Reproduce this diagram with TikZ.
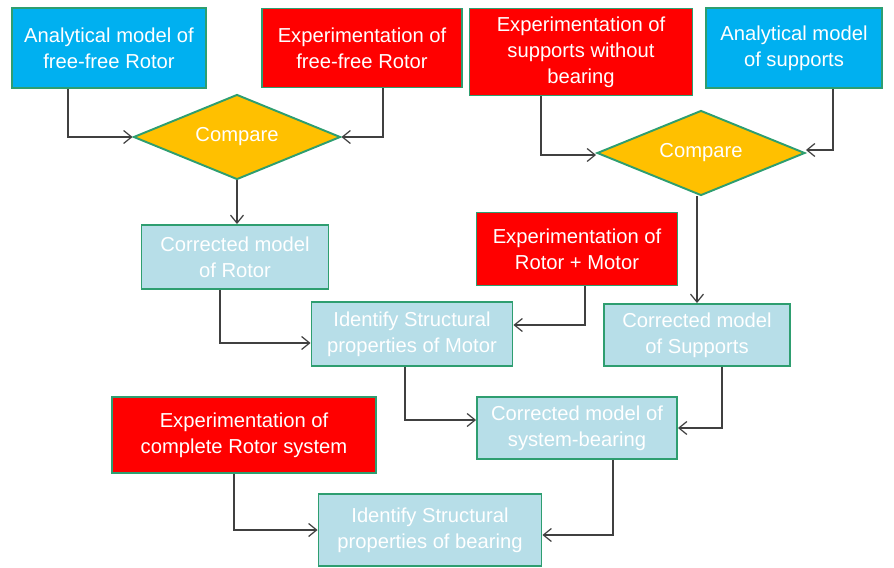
\documentclass[tikz,border=0pt]{standalone}
\usepackage{fontspec}
\setmainfont{Liberation Sans}
\usetikzlibrary{shapes.geometric,arrows.meta}

\definecolor{azul}{HTML}{00B0F0}
\definecolor{vermelho}{HTML}{FF0000}
\definecolor{ouro}{HTML}{FFC000}
\definecolor{claro}{HTML}{B7DEE8}
\definecolor{borda}{HTML}{2E9E70}
\definecolor{linha}{HTML}{404040}

\tikzset{
  caixa/.style={draw=borda, line width=1.1pt, text=white, align=center,
    font=\fontsize{11.5}{14.8}\selectfont, inner sep=2pt},
  modelo/.style={caixa, fill=azul},
  ensaio/.style={caixa, fill=vermelho},
  corrigido/.style={caixa, fill=claro},
  compara/.style={caixa, shape=diamond, aspect=2.4, fill=ouro, inner sep=0pt},
  seta/.style={->, draw=linha, line width=0.7pt}
}

\begin{document}
\begin{tikzpicture}[x=0.02cm, y=-0.02cm, >={Straight Barb[length=1.6mm,width=2.6mm]}]
  \useasboundingbox (0,0) rectangle (894,568);

    % Linha de cima
  \node[modelo, minimum width=3.88cm, minimum height=1.6cm] (mod1) at (109,48) {Analytical model of\\free-free Rotor};
  \node[ensaio, minimum width=4.0cm, minimum height=1.58cm] (exp1) at (362,48) {Experimentation of\\free-free Rotor};
  \node[ensaio, minimum width=4.46cm, minimum height=1.74cm] (exp2) at (581,52) {Experimentation of\\supports without\\bearing};
  \node[modelo, minimum width=3.52cm, minimum height=1.6cm] (mod2) at (794,48) {Analytical model\\of supports};

    % Comparações
  \node[compara, minimum width=4.14cm, minimum height=1.7cm] (comp1) at (237,137) {Compare};
  \node[compara, minimum width=4.16cm, minimum height=1.7cm] (comp2) at (701,153) {Compare};

    % Modelos corrigidos
  \node[corrigido, minimum width=3.74cm, minimum height=1.28cm] (rotor) at (235,257) {Corrected model\\of Rotor};
  \node[ensaio, minimum width=4.02cm, minimum height=1.46cm] (exp3) at (577,249) {Experimentation of\\Rotor + Motor};
  \node[corrigido, minimum width=4.02cm, minimum height=1.28cm] (motor) at (412,334) {Identify Structural\\properties of Motor};
  \node[corrigido, minimum width=3.72cm, minimum height=1.24cm] (sup) at (697,335) {Corrected model\\of Supports};
  \node[ensaio, minimum width=5.28cm, minimum height=1.52cm] (exp4) at (244,435) {Experimentation of\\complete Rotor system};
  \node[corrigido, minimum width=4.0cm, minimum height=1.24cm] (sist) at (577,428) {Corrected model of\\system-bearing};
  \node[corrigido, minimum width=4.46cm, minimum height=1.44cm] (manc) at (430,530) {Identify Structural\\properties of bearing};

    % Setas
  \draw[seta] ([xshift=-0.82cm]mod1.south) |- (comp1.west);
  \draw[seta] ([xshift=0.42cm]exp1.south) |- (comp1.east);
  \draw[seta] ([xshift=-0.8cm]exp2.south) |- ([yshift=-0.04cm]comp2.west);
  \draw[seta] ([xshift=0.78cm]mod2.south) |- ([yshift=0.06cm]comp2.east);
  \draw[seta] (comp1.south) -- (comp1.south |- rotor.north);
  \draw[seta] ([xshift=-0.08cm]comp2.south) -- ([xshift=-0.08cm]comp2.south |- sup.north);
  \draw[seta] ([xshift=-0.3cm]rotor.south) |- ([yshift=-0.18cm]motor.west);
  \draw[seta] ([xshift=0.16cm]exp3.south) |- ([yshift=0.18cm]motor.east);
  \draw[seta] ([xshift=-0.14cm]motor.south) |- ([yshift=0.16cm]sist.west);
  \draw[seta] ([xshift=0.5cm]sup.south) |- (sist.east);
  \draw[seta] ([xshift=-0.2cm]exp4.south) |- (manc.west);
  \draw[seta] ([xshift=0.72cm]sist.south) |- ([yshift=-0.1cm]manc.east);
\end{tikzpicture}
\end{document}
